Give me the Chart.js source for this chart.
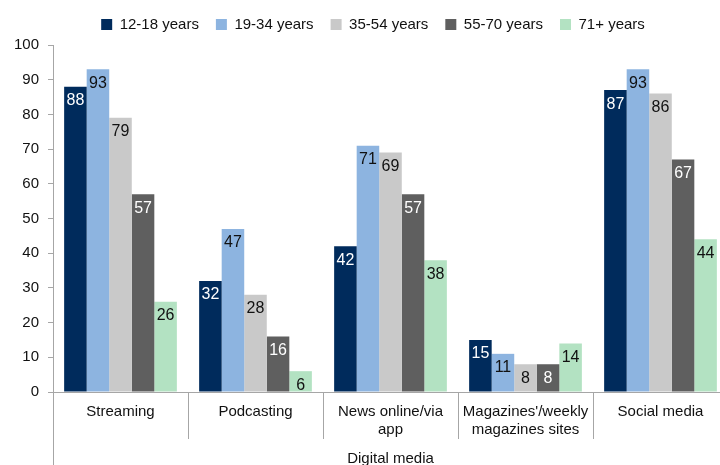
<!DOCTYPE html>
<html>
<head>
<meta charset="utf-8">
<script src="https://cdn.jsdelivr.net/npm/chart.js@4/dist/chart.umd.min.js"></script>
<style>
  html, body { margin: 0; padding: 0; background: #fff; width: 720px; height: 465px; overflow: hidden; }
  canvas { display: block; }
</style>
</head>
<body>
<canvas id="chart" width="728" height="465"></canvas>
<script>
// Digital media use by age group (%)
const categories = [
  'Streaming',
  'Podcasting',
  ['News online/via', 'app'],
  ["Magazines'/weekly", 'magazines sites'],
  'Social media'
];
const groupTitle = 'Digital media';
const seriesNames = ['12-18 years', '19-34 years', '35-54 years', '55-70 years', '71+ years'];

const age12to18 = [88, 32, 42, 15, 87];
const age19to34 = [93, 47, 71, 11, 93];
const age35to54 = [79, 28, 69, 8, 86];
const age55to70 = [57, 16, 57, 8, 67];
const age71plus = [26, 6, 38, 14, 44];

const yMin = 0;
const yMax = 100;
const yStep = 10;

// styling
const seriesColors = ['#002b5c', '#8db4e0', '#c9c9c9', '#5f5f5f', '#b3e2c2'];
const valueLabelColors = ['#ffffff', '#111111', '#111111', '#ffffff', '#111111'];
const axisColor = '#a6a6a6';
const fontFamily = "'Liberation Sans', Arial, sans-serif";

const seriesValues = [age12to18, age19to34, age35to54, age55to70, age71plus];

// value labels inside the top of each bar
const valueLabels = {
  id: 'valueLabels',
  afterDatasetsDraw(chart) {
    const ctx = chart.ctx;
    ctx.save();
    ctx.font = '16px ' + fontFamily;
    ctx.textAlign = 'center';
    ctx.textBaseline = 'middle';
    chart.data.datasets.forEach((ds, di) => {
      const meta = chart.getDatasetMeta(di);
      ctx.fillStyle = valueLabelColors[di];
      meta.data.forEach((bar, i) => {
        ctx.fillText(String(ds.data[i]), bar.x, bar.y + 14);
      });
    });
    ctx.restore();
  }
};

// y axis line continues down past the category labels
const axisExtension = {
  id: 'axisExtension',
  afterDraw(chart) {
    const ctx = chart.ctx;
    const x = Math.round(chart.scales.y.right) + 0.5;
    ctx.save();
    ctx.strokeStyle = axisColor;
    ctx.lineWidth = 1;
    ctx.beginPath();
    ctx.moveTo(x, chart.chartArea.bottom);
    ctx.lineTo(x, chart.height);
    ctx.stroke();
    ctx.restore();
  }
};

// nudge the legend row a little right and up
const legendOffset = { dx: 9, dy: -3 };
const legendNudge = {
  id: 'legendNudge',
  afterLayout(chart) {
    const lg = chart.legend;
    if (!lg) return;
    lg.left += legendOffset.dx;
    lg.right += legendOffset.dx;
    lg.top += legendOffset.dy;
    lg.bottom += legendOffset.dy;
  }
};

new Chart(document.getElementById('chart'), {
  type: 'bar',
  data: {
    labels: categories,
    datasets: seriesNames.map((name, i) => ({
      label: name,
      data: seriesValues[i],
      backgroundColor: seriesColors[i],
      borderWidth: 0,
      barPercentage: 1,
      categoryPercentage: 0.835
    }))
  },
  options: {
    responsive: false,
    animation: false,
    layout: { padding: { left: 0, right: 0, top: 3, bottom: 0 } },
    plugins: {
      legend: {
        position: 'top',
        labels: {
          boxWidth: 11,
          boxHeight: 11,
          padding: 17,
          color: '#111',
          font: { family: fontFamily, size: 15 }
        }
      },
      tooltip: { enabled: false }
    },
    scales: {
      x: {
        grid: {
          display: true,
          offset: true,
          drawOnChartArea: false,
          drawTicks: true,
          tickLength: 47,
          color: axisColor
        },
        border: { display: true, color: axisColor },
        ticks: {
          color: '#111',
          font: { family: fontFamily, size: 15 },
          padding: -36,
          maxRotation: 0,
          autoSkip: false
        },
        title: {
          display: true,
          text: groupTitle,
          color: '#111',
          font: { family: fontFamily, size: 15 },
          padding: { top: -3, bottom: -3 }
        },
        afterFit(scale) { scale.height = 73; }
      },
      y: {
        min: yMin,
        max: yMax,
        grid: {
          drawOnChartArea: false,
          drawTicks: true,
          tickLength: 5,
          color: axisColor
        },
        border: { display: true, color: axisColor },
        ticks: {
          stepSize: yStep,
          color: '#111',
          font: { family: fontFamily, size: 15 },
          padding: 9
        },
        afterFit(scale) { scale.width = 53; }
      }
    }
  },
  plugins: [valueLabels, axisExtension, legendNudge]
});
</script>
</body>
</html>
